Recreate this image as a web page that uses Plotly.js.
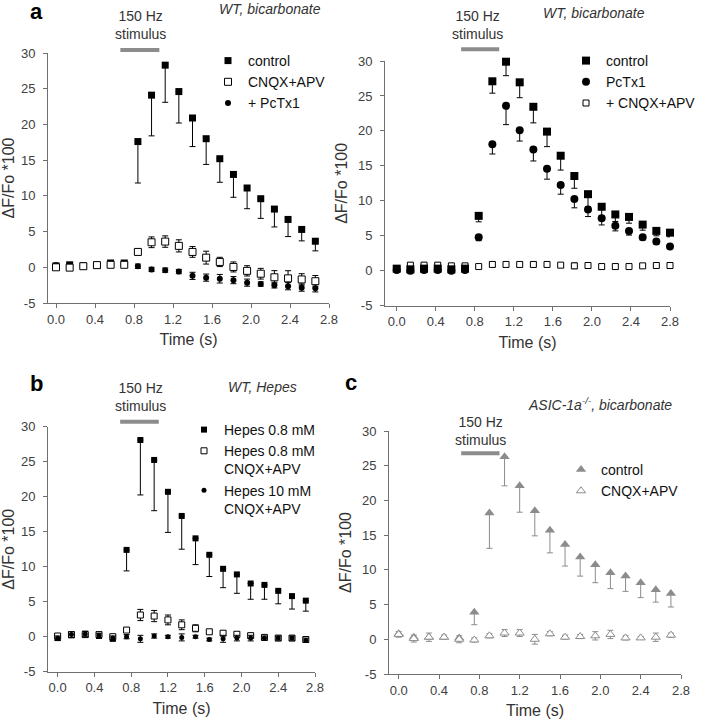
<!DOCTYPE html>
<html>
<head>
<meta charset="utf-8">
<script src="https://cdn.plot.ly/plotly-3.0.1.min.js"></script>
<style>html,body{margin:0;padding:0;background:#fff;}#chart{width:702px;height:719px;}</style>
</head>
<body>
<div id="chart"></div>
<script>
// ---------- Panel a (WT, bicarbonate: control / CNQX+APV / +PcTx1) ----------
const tA = [0.00,0.14,0.28,0.42,0.56,0.70,0.84,0.98,1.12,1.26,1.40,1.54,1.68,1.82,1.96,2.10,2.24,2.38,2.52,2.66];
const aControl    = [0.2,0.35,0.2,0.3,0.6,0.6,17.6,24.1,28.3,24.6,20.9,18.0,15.2,13.0,11.1,9.6,8.15,6.7,5.3,3.65];
const aControlErr = [0.2,0.2,0.2,0.2,0.2,0.2,5.8,5.7,5.2,4.4,4.0,3.6,3.3,3.2,2.9,2.75,2.5,2.4,1.6,1.35];
const aCnqx       = [0.0,-0.05,0.15,0.3,0.35,0.35,2.15,3.5,3.6,3.0,2.15,1.35,0.75,0.05,-0.5,-0.9,-1.4,-1.55,-1.7,-1.95];
const aCnqxErr    = [0.2,0.2,0.2,0.2,0.2,0.3,0.4,0.75,0.8,0.85,0.75,0.9,0.65,0.7,0.72,0.75,0.93,1.07,0.8,0.8];
const aPctx       = [0.3,0.3,0.2,0.35,0.55,0.6,0.15,-0.3,-0.4,-0.6,-1.2,-1.45,-1.6,-1.8,-2.15,-2.35,-2.5,-2.65,-2.85,-2.95];
const aPctxErr    = [0.2,0.2,0.2,0.2,0.2,0.2,0.3,0.3,0.3,0.3,0.5,0.5,0.6,0.5,0.5,0.3,0.4,0.5,0.5,0.5];

// ---------- Panel a' (WT, bicarbonate: control / PcTx1 / +CNQX+APV) ----------
const tA2 = [0.00,0.14,0.28,0.42,0.56,0.70,0.84,0.98,1.12,1.26,1.40,1.54,1.68,1.82,1.96,2.10,2.24,2.38,2.52,2.66,2.80];
const a2Control    = [0.3,0.2,0.3,0.3,0.2,0.3,7.85,27.1,29.9,26.95,23.45,19.9,16.45,13.55,10.95,9.15,8.05,7.7,6.6,5.7,5.45];
const a2ControlErr = [0.2,0.2,0.2,0.2,0.2,0.2,0.85,1.7,2.0,2.2,2.3,2.15,2.05,1.75,1.8,1.3,1.0,0.9,0.8,0.7,0.6];
const a2Pctx       = [0.1,0.0,0.1,0.1,0.0,0.1,4.8,18.1,23.6,20.1,17.35,14.6,12.25,10.25,8.75,7.5,6.45,5.7,4.8,4.2,3.45];
const a2PctxErr    = [0.2,0.2,0.2,0.2,0.2,0.2,0.5,1.4,2.7,1.55,1.65,1.5,1.3,1.25,1.0,0.95,0.75,0.6,0.4,0.4,0.3];
const a2Cnqx       = [0.3,0.8,0.8,0.8,0.7,0.7,0.6,0.9,0.9,0.9,0.9,0.9,0.8,0.7,0.75,0.6,0.6,0.6,0.7,0.75,0.75];
const a2CnqxErr    = [0.2,0.3,0.3,0.3,0.3,0.3,0.2,0.3,0.3,0.3,0.3,0.3,0.2,0.4,0.3,0.3,0.3,0.3,0.2,0.2,0.2];

// ---------- Panel b (WT, Hepes) ----------
const tB = [0.00,0.15,0.30,0.45,0.60,0.75,0.90,1.05,1.20,1.35,1.50,1.65,1.80,1.95,2.10,2.25,2.40,2.55,2.70];
const bHepes08      = [-0.2,0.2,0.3,0.1,-0.3,12.4,28.1,25.25,20.7,17.25,14.05,11.7,9.7,8.9,7.6,7.4,6.55,5.8,5.15];
const bHepes08Err   = [0.3,0.3,0.3,0.3,0.3,3.0,7.85,7.25,5.8,4.75,3.75,3.1,2.7,2.7,2.25,2.05,1.85,1.85,1.5];
const bHepes08Cq    = [0.1,0.3,0.3,0.3,0.0,0.95,3.1,2.95,2.4,1.7,1.2,0.7,0.5,0.35,0.15,-0.1,-0.2,-0.2,-0.4];
const bHepes08CqErr = [0.3,0.3,0.3,0.3,0.3,0.3,0.8,0.8,0.7,0.7,0.5,0.3,0.3,0.3,0.3,0.2,0.2,0.2,0.2];
const bHepes10Cq    = [-0.2,0.3,0.4,0.2,-0.2,0.0,-0.3,0.1,0.0,-0.1,0.0,-0.4,-0.3,-0.2,-0.2,-0.2,-0.2,-0.2,-0.5];
const bHepes10CqErr = [0.3,0.4,0.4,0.3,0.3,0.3,0.5,0.3,0.2,0.5,0.2,0.2,0.5,0.4,0.4,0.3,0.3,0.3,0.3];

// ---------- Panel c (ASIC-1a-/-, bicarbonate) ----------
const tC = [0.00,0.15,0.30,0.45,0.60,0.75,0.90,1.05,1.20,1.35,1.50,1.65,1.80,1.95,2.10,2.25,2.40,2.55,2.70];
const cControl    = [0.8,0.3,0.3,0.3,0.2,3.9,18.2,26.3,22.1,18.5,15.7,13.65,11.85,10.75,9.6,9.1,8.15,7.15,6.6];
const cControlErr = [0.3,0.3,0.3,0.3,0.3,1.8,5.1,4.2,3.8,3.6,3.25,3.1,2.75,2.6,2.3,2.2,2.15,1.8,1.95];
const cCnqx       = [0.7,0.1,0.3,0.3,0.0,-0.1,0.5,0.9,0.9,0.0,0.8,0.3,0.4,0.5,0.7,0.2,0.2,0.3,0.6];
const cCnqxErr    = [0.4,0.5,0.6,0.3,0.5,0.3,0.3,0.5,0.5,0.7,0.3,0.3,0.3,0.6,0.6,0.3,0.2,0.6,0.3];

// tick labels / texts
const xTickVals = [0.0,0.4,0.8,1.2,1.6,2.0,2.4,2.8];
const xTickText = ["0.0","0.4","0.8","1.2","1.6","2.0","2.4","2.8"];
const yTickVals = [-5,0,5,10,15,20,25,30];
const yTickText = ["-5","0","5","10","15","20","25","30"];

// ---------- helpers ----------
const FONT = "Liberation Sans, Arial, sans-serif";
const BLK = "#000000", GRY = "#8c8c8c";

function downErr(err, color){
  return {type:"data", symmetric:false, array:err.map(()=>0), arrayminus:err,
          color:color, thickness:1, width:3, visible:true};
}
function symErr(err, color){
  return {type:"data", symmetric:true, array:err, color:color, thickness:1, width:3, visible:true};
}
function tr(x, y, err, oneSided, name, sym, size, fill, lineCol, xa, ya, leg, rank){
  return {
    type:"scatter", mode:"markers", x:x, y:y, name:name,
    xaxis:xa, yaxis:ya, legend:leg, legendrank:rank,
    marker:{symbol:sym, size:size, color:fill, line:{color:lineCol, width: fill==="#ffffff"?1:0}},
    error_y: oneSided ? downErr(err, lineCol) : symErr(err, lineCol),
    cliponaxis:false, hoverinfo:"x+y+name"
  };
}

const data = [
  // panel a
  tr(tA, aControl, aControlErr, true, "control", "square", 7, BLK, BLK, "x", "y", "legend", 1),
  tr(tA, aPctx, aPctxErr, false, "+ PcTx1", "circle", 6, BLK, BLK, "x", "y", "legend", 3),
  tr(tA, aCnqx, aCnqxErr, false, "CNQX+APV", "square", 7, "#ffffff", BLK, "x", "y", "legend", 2),
  // panel a'
  tr(tA2, a2Cnqx, a2CnqxErr, false, "+ CNQX+APV", "square", 6, "#ffffff", BLK, "x2", "y2", "legend2", 3),
  tr(tA2, a2Control, a2ControlErr, true, "control", "square", 8, BLK, BLK, "x2", "y2", "legend2", 1),
  tr(tA2, a2Pctx, a2PctxErr, true, "PcTx1", "circle", 8, BLK, BLK, "x2", "y2", "legend2", 2),
  // panel b
  tr(tB, bHepes08, bHepes08Err, true, "Hepes 0.8 mM", "square", 6, BLK, BLK, "x3", "y3", "legend3", 1),
  tr(tB, bHepes08Cq, bHepes08CqErr, false, "Hepes 0.8 mM<br>CNQX+APV", "square", 6, "#ffffff", BLK, "x3", "y3", "legend3", 2),
  tr(tB, bHepes10Cq, bHepes10CqErr, false, "Hepes 10 mM<br>CNQX+APV", "circle", 5, BLK, BLK, "x3", "y3", "legend3", 3),
  // panel c
  tr(tC, cControl, cControlErr, true, "control", "triangle-up", 9, GRY, GRY, "x4", "y4", "legend4", 1),
  tr(tC, cCnqx, cCnqxErr, false, "CNQX+APV", "triangle-up", 8, "#ffffff", GRY, "x4", "y4", "legend4", 2)
];

const W = 702, H = 719;
const px = v => v / W;
const py = v => 1 - v / H;

function xAx(l, r, lo, anchor){
  return {domain:[px(l), px(r)], range:[lo, 2.8], anchor:anchor,
    showline:true, linecolor:"#707070", linewidth:1, ticks:"outside", ticklen:4, tickcolor:"#707070",
    showgrid:false, zeroline:false, tickvals:xTickVals, ticktext:xTickText,
    tickfont:{family:FONT, size:13, color:"#404040"},
    title:{text:"Time (s)", font:{family:FONT, size:16, color:"#333333"}, standoff:8}};
}
function yAx(t, b, anchor){
  return {domain:[py(b), py(t)], range:[-5, 30], anchor:anchor,
    showline:true, linecolor:"#707070", linewidth:1, ticks:"outside", ticklen:4, tickcolor:"#707070",
    showgrid:false, zeroline:false, tickvals:yTickVals, ticktext:yTickText, ticklabelstandoff:5,
    tickfont:{family:FONT, size:13, color:"#404040"},
    title:{text:"ΔF/Fo *100", font:{family:FONT, size:16, color:"#333333"}, standoff:6}};
}
function leg(xp, yp){
  return {x:px(xp), y:py(yp), xanchor:"left", yanchor:"top", bgcolor:"rgba(0,0,0,0)",
    borderwidth:0, valign:"top", font:{family:FONT, size:14, color:"#111111"}, traceorder:"normal"};
}
function ann(text, xp, yp, size, opts){
  return Object.assign({text:text, xref:"paper", yref:"paper", x:px(xp), y:py(yp),
    xanchor:"center", yanchor:"middle", showarrow:false,
    font:{family:FONT, size:size, color:"#333333"}}, opts||{});
}
function stim(xref, x0, x1, yp){
  return {type:"line", xref:xref, yref:"paper", x0:x0, x1:x1, y0:py(yp), y1:py(yp),
    line:{color:"#8c8c8c", width:4}};
}

const layout = {
  width:W, height:H, margin:{l:0, r:0, t:0, b:0},
  paper_bgcolor:"#ffffff", plot_bgcolor:"#ffffff",
  font:{family:FONT}, showlegend:true,
  xaxis: xAx(48, 329, -0.082, "y"),   yaxis: yAx(53, 303, "x"),
  xaxis2:xAx(385, 670, -0.12, "y2"),  yaxis2:yAx(61, 305.7, "x2"),
  xaxis3:xAx(48, 315, -0.105, "y3"),  yaxis3:yAx(426.7, 671.7, "x3"),
  xaxis4:xAx(389, 681, -0.096, "y4"), yaxis4:yAx(431, 674, "x4"),
  legend: leg(208, 45),
  legend2:leg(566, 45),
  legend3:leg(184, 414),
  legend4:leg(561, 454),
  shapes:[
    stim("x", 0.66, 1.06, 50),
    stim("x2", 0.66, 1.05, 49.3),
    stim("x3", 0.68, 1.10, 421.7),
    stim("x4", 0.62, 1.00, 453.3)
  ],
  annotations:[
    ann("<b>a</b>", 36, 11, 22, {font:{family:FONT, size:22, color:"#000"}}),
    ann("<b>b</b>", 36, 383, 22, {font:{family:FONT, size:22, color:"#000"}}),
    ann("<b>c</b>", 351, 382, 22, {font:{family:FONT, size:22, color:"#000"}}),
    ann("150 Hz<br>stimulus", 140, 25, 14),
    ann("150 Hz<br>stimulus", 478, 25, 14),
    ann("150 Hz<br>stimulus", 140, 397, 14),
    ann("150 Hz<br>stimulus", 480, 431, 14),
    ann("<i>WT, bicarbonate</i>", 270, 9, 14),
    ann("<i>WT, bicarbonate</i>", 594, 12.5, 14),
    ann("<i>WT, Hepes</i>", 262, 387, 14),
    ann("<i>ASIC-1a<sup>-/-</sup>, bicarbonate</i>", 600, 403.5, 14)
  ]
};

Plotly.newPlot("chart", data, layout, {staticPlot:true, displayModeBar:false});
</script>
</body>
</html>
